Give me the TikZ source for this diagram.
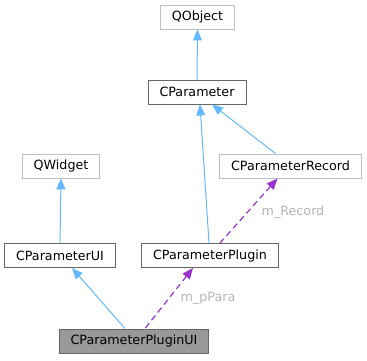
\documentclass[tikz,border=0pt]{standalone}
\usepackage{fontspec}
\setmainfont{DejaVu Sans}
\usetikzlibrary{arrows.meta}
\definecolor{dgEdge}{HTML}{63B8FF}
\definecolor{dgUse}{HTML}{9A32CD}
\definecolor{dgDark}{HTML}{666666}
\definecolor{dgLight}{HTML}{BFBFBF}
\definecolor{dgFill}{HTML}{999999}
\definecolor{dgText}{HTML}{B4B4B4}
\tikzset{
  dg class/.style={draw=dgDark, line width=0.9pt, fill=white, minimum height=24pt, inner xsep=11.5pt, inner ysep=0pt, font=\fontsize{12.7}{14}\selectfont},
  dg extern/.style={dg class, draw=dgLight},
  dg main/.style={dg class, fill=dgFill},
  dg inherit/.style={draw=dgEdge, line width=1pt, {Triangle[length=11pt,width=9pt]}-},
  dg use/.style={draw=dgUse, line width=1.2pt, dash pattern=on 6pt off 4pt, {Triangle[length=11pt,width=9pt]}-},
  dg label/.style={text=dgText, font=\fontsize{12.7}{14}\selectfont},
}
\begin{document}
\begin{tikzpicture}[x=1pt, y=-1pt]
  \useasboundingbox (0,0) rectangle (367,361);

  % classes
  \node[dg extern] (qobject) at (197.5,17) {QObject};
  \node[dg class] (param) at (197,92) {CParameter};
  \node[dg extern] (qwidget) at (61,166) {QWidget};
  \node[dg extern] (record) at (290.5,166) {CParameterRecord};
  \node[dg class] (ui) at (60,255.5) {CParameterUI};
  \node[dg class] (plugin) at (210,255.5) {CParameterPlugin};
  \node[dg main] (pluginui) at (134,341) {CParameterPluginUI};

  % inheritance
  \draw[dg inherit] (qobject.south) -- (param.north);
  \draw[dg inherit] ([xshift=15pt]param.south) -- ([xshift=-15pt]record.north);
  \draw[dg inherit] ([xshift=3pt]param.south) -- ([xshift=-1pt]plugin.north);
  \draw[dg inherit] (qwidget.south) -- (ui.north);
  \draw[dg inherit] ([xshift=12pt]ui.south) -- ([xshift=-9pt]pluginui.north);

  % members
  \draw[dg use] ([xshift=-13pt]record.south) -- ([xshift=10pt]plugin.north);
  \draw[dg use] ([xshift=-17pt]plugin.south) -- ([xshift=11pt]pluginui.north);
  \node[dg label] (lrecord) at (293,212) {m\_Record};
  \node[dg label] (lpara) at (208,298) {m\_pPara};
\end{tikzpicture}
\end{document}
